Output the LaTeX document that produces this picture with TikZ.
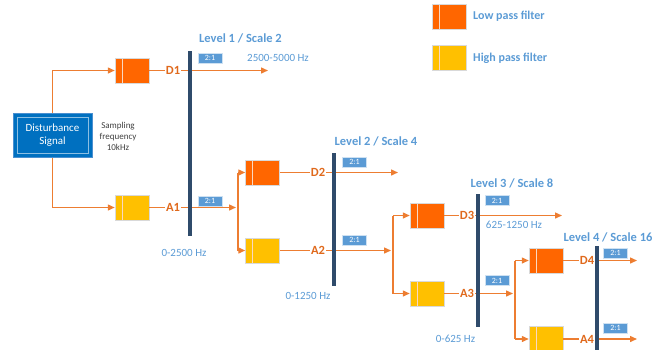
\documentclass[tikz,border=0pt]{standalone}
\usepackage{fontspec}
\setmainfont{Carlito}
\usetikzlibrary{arrows.meta,shadows}

\definecolor{lowor}{HTML}{FF6600}
\definecolor{highyel}{HTML}{FFC000}
\definecolor{lineor}{HTML}{ED7D31}
\definecolor{coefor}{HTML}{E0691C}
\definecolor{txtblue}{HTML}{5B9BD5}
\definecolor{ratioblue}{HTML}{5B9BD5}
\definecolor{barnavy}{HTML}{2F4B6B}
\definecolor{sigblue}{HTML}{0070C0}
\definecolor{sigedge}{HTML}{4A8FD0}

\tikzset{
  wire/.style={draw=lineor, line width=1.4pt},
  arr/.style={wire, -{Triangle[length=7pt,width=6pt]}},
  filterbox/.style={minimum width=34pt, minimum height=25pt, inner sep=0pt,
    draw=white!85!black, line width=0.5pt,
    drop shadow={shadow xshift=0.8pt, shadow yshift=-0.8pt, opacity=0.15, fill=black},
    path picture={\draw[white!70!lineor, line width=0.6pt]
      ([xshift=7pt]path picture bounding box.north west) --
      ([xshift=7pt]path picture bounding box.south west);}},
  lpf/.style={filterbox, fill=lowor},
  hpf/.style={filterbox, fill=highyel},
  ratio/.style={fill=ratioblue, draw=white!70!ratioblue, line width=0.4pt, text=white,
    font=\fontsize{8}{8}\selectfont, minimum width=24pt, minimum height=10pt, inner sep=0pt},
  lvl/.style={text=txtblue, font=\bfseries\fontsize{12.5}{12.5}\selectfont, inner sep=0pt},
  band/.style={text=txtblue, font=\fontsize{11}{11}\selectfont, inner sep=0pt},
  coef/.style={fill=white, text=coefor, font=\bfseries\fontsize{12.5}{12.5}\selectfont,
    inner sep=1pt},
  barline/.style={draw=barnavy, line width=3.5pt},
  legendtxt/.style={text=txtblue, font=\bfseries\fontsize{12}{12}\selectfont,
    anchor=west, inner sep=0pt},
  sig/.style={fill=sigblue, draw=sigedge, line width=1pt, minimum width=79pt,
    minimum height=44pt, text=white, align=center,
    font=\fontsize{11}{13}\selectfont, inner sep=0pt,
    path picture={\draw[white!55!sigblue, line width=0.6pt]
      ([shift={(4pt,-4pt)}]path picture bounding box.north west) rectangle
      ([shift={(-4pt,4pt)}]path picture bounding box.south east);}},
}

\begin{document}
\begin{tikzpicture}[x=1pt, y=-1pt]
\useasboundingbox (0,0) rectangle (665,349);

% input signal
\node[sig] (ds) at (52.5,135.5) {Disturbance\\Signal};
\node[align=center, text=black!75, font=\fontsize{9}{11}\selectfont]
  (fs) at (118,136) {Sampling\\frequency\\10kHz};

% ---------- level 1
\node[lpf] (d1) at (132,70.5) {};
\node[hpf] (a1) at (132,207.5) {};
\node[coef] (d1c) at (173,70.5) {D1};
\node[coef] (a1c) at (173,207.5) {A1};
\coordinate (b1t) at (190,51);
\coordinate (b1b) at (190,236);
\node[ratio] (r1u) at (210,58) {2:1};
\node[ratio] (r1l) at (210,201) {2:1};
\coordinate (d1e) at (268,70.5);
\coordinate (a1e) at (236,207.5);
\node[band] (bd1) at (278,58) {2500-5000 Hz};
\node[band] (ba1) at (184,253) {0-2500 Hz};
\node[lvl] (l1) at (240.5,38) {Level 1 / Scale 2};

\draw[arr] (ds.north) |- (d1.west);
\draw[arr] (ds.south) |- (a1.west);
\draw[wire] (d1) -- (d1c);
\draw[wire] (a1) -- (a1c);
\draw[arr] (d1c) -- (d1e);
\draw[arr] (a1c) -- (a1e);

% ---------- level 2
\node[lpf] (d2) at (262.5,172.5) {};
\node[hpf] (a2) at (262.5,250.5) {};
\coordinate (s1t) at (238,172.5);
\coordinate (s1b) at (238,250.5);
\draw[wire] (s1t) -- (s1b);
\draw[arr] (s1t) -- (d2);
\draw[arr] (s1b) -- (a2);
\node[coef] (d2c) at (318,172.5) {D2};
\node[coef] (a2c) at (318,250.5) {A2};
\coordinate (b2t) at (334,153);
\coordinate (b2b) at (334,286);
\node[ratio] (r2u) at (354.5,162) {2:1};
\node[ratio] (r2l) at (354.5,240) {2:1};
\coordinate (d2e) at (398,172.5);
\coordinate (a2e) at (391,250.5);
\node[band] (ba2) at (308,296) {0-1250 Hz};
\node[lvl] (l2) at (376,141) {Level 2 / Scale 4};
\draw[wire] (d2) -- (d2c);
\draw[wire] (a2) -- (a2c);
\draw[arr] (d2c) -- (d2e);
\draw[arr] (a2c) -- (a2e);

% ---------- level 3
\node[lpf] (d3) at (427,215.5) {};
\node[hpf] (a3) at (427,293.5) {};
\coordinate (s2t) at (393,215.5);
\coordinate (s2b) at (393,293.5);
\draw[wire] (s2t) -- (s2b);
\draw[arr] (s2t) -- (d3);
\draw[arr] (s2b) -- (a3);
\node[coef] (d3c) at (467,215.5) {D3};
\node[coef] (a3c) at (467,293.5) {A3};
\coordinate (b3t) at (478,194);
\coordinate (b3b) at (478,327);
\node[ratio] (r3u) at (497,200.5) {2:1};
\node[ratio] (r3l) at (497,280.5) {2:1};
\coordinate (d3e) at (562,215.5);
\coordinate (a3e) at (513,293.5);
\node[band] (bd3) at (514,224.5) {625-1250 Hz};
\node[band] (ba3) at (455.5,339) {0-625 Hz};
\node[lvl] (l3) at (512,183) {Level 3 / Scale 8};
\draw[wire] (d3) -- (d3c);
\draw[wire] (a3) -- (a3c);
\draw[arr] (d3c) -- (d3e);
\draw[arr] (a3c) -- (a3e);

% ---------- level 4
\node[lpf] (d4) at (546,260.5) {};
\node[hpf] (a4) at (546,339) {};
\coordinate (s3t) at (515,260.5);
\coordinate (s3b) at (515,339);
\draw[wire] (s3t) -- (s3b);
\draw[arr] (s3t) -- (d4);
\draw[arr] (s3b) -- (a4);
\node[coef] (d4c) at (587,260.5) {D4};
\node[coef] (a4c) at (587,339) {A4};
\coordinate (b4t) at (597,246);
\coordinate (b4b) at (597,352);
\node[ratio] (r4u) at (615.5,253) {2:1};
\node[ratio] (r4l) at (615.5,328) {2:1};
\coordinate (d4e) at (637,260.5);
\coordinate (a4e) at (637,339);
\node[lvl] (l4) at (608,237) {Level 4 / Scale 16};
\draw[wire] (d4) -- (d4c);
\draw[wire] (a4) -- (a4c);
\draw[arr] (d4c) -- (d4e);
\draw[arr] (a4c) -- (a4e);

% downsampling bars
\draw[barline] (b1t) -- (b1b);
\draw[barline] (b2t) -- (b2b);
\draw[barline] (b3t) -- (b3b);
\draw[barline] (b4t) -- (b4b);

% legend
\node[lpf] (kl) at (449,16.5) {};
\node[hpf] (kh) at (449,58) {};
\node[legendtxt] (klt) at (473,16.5) {Low pass filter};
\node[legendtxt] (kht) at (473,58) {High pass filter};
\end{tikzpicture}
\end{document}
